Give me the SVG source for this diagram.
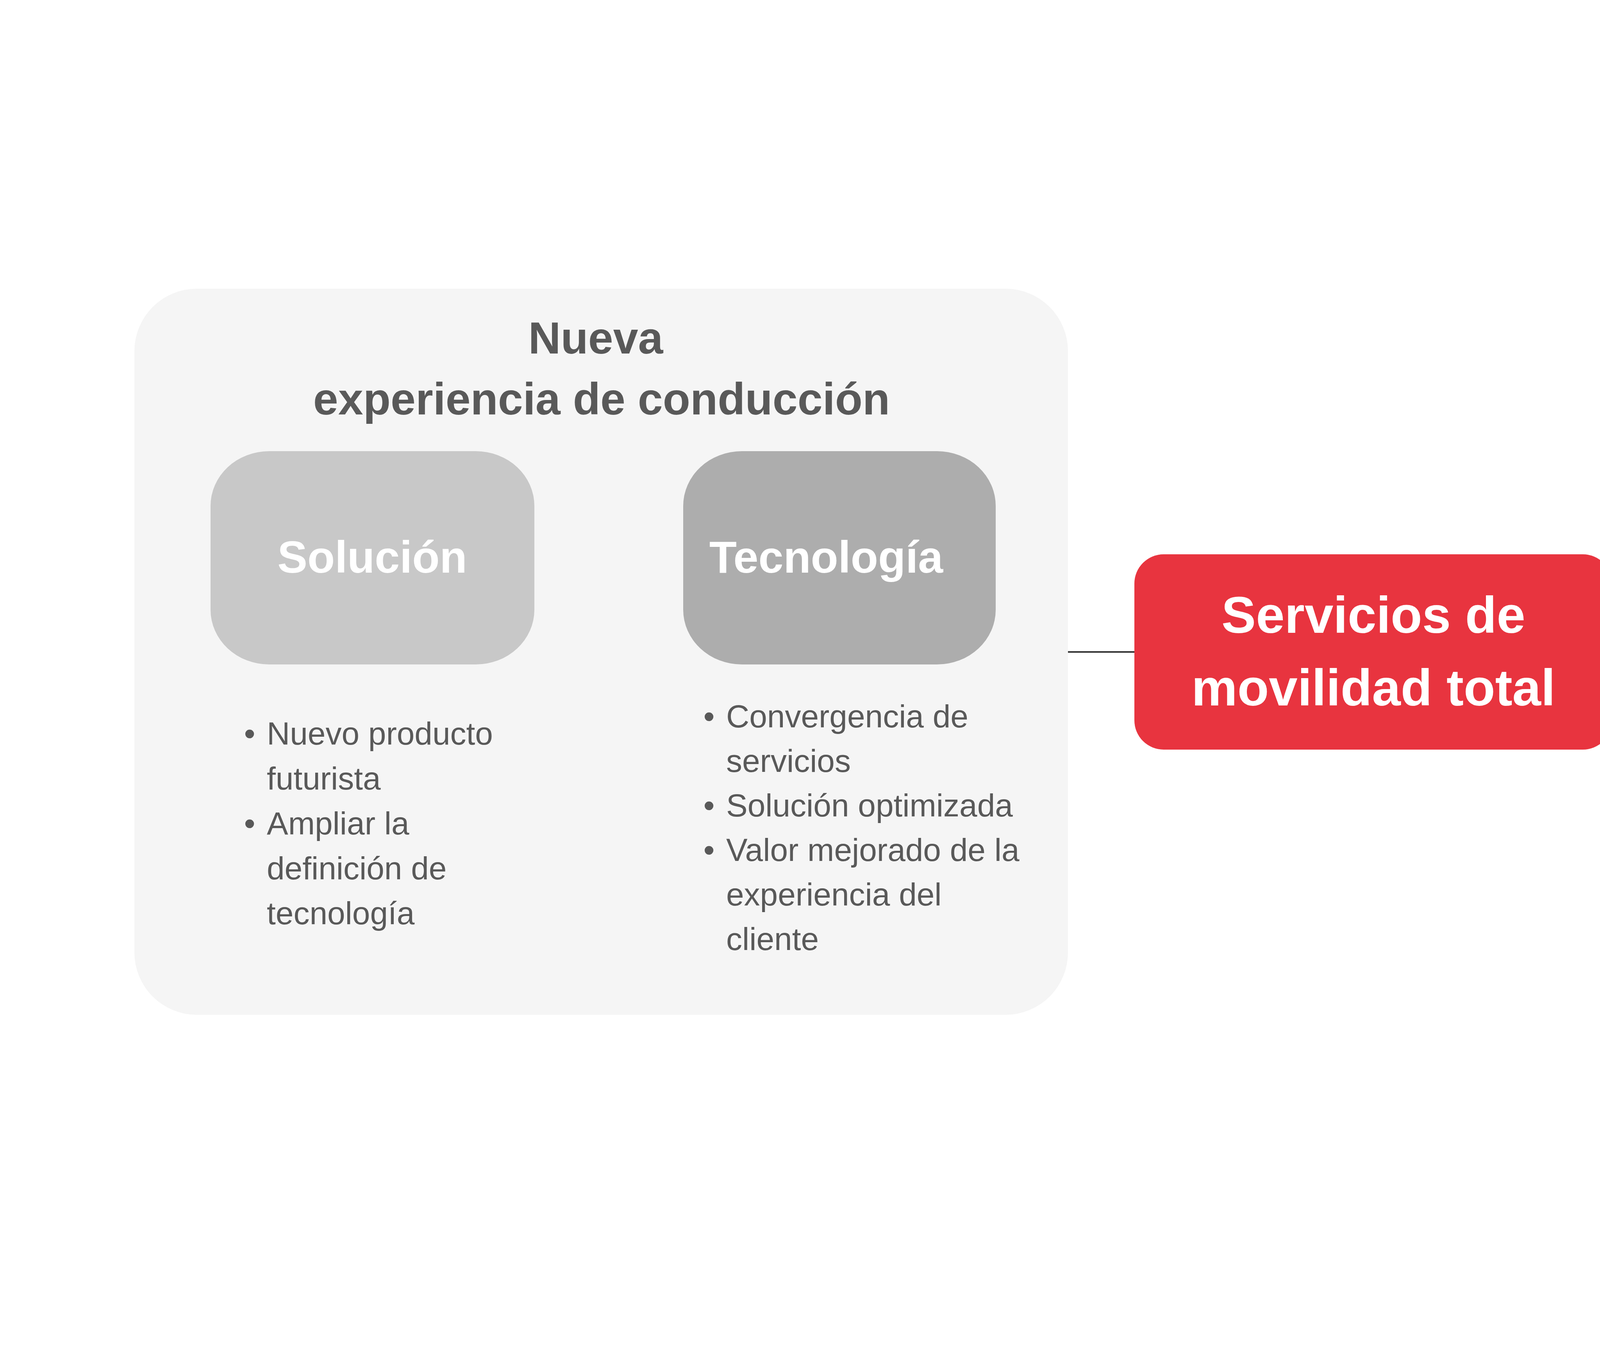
<svg xmlns="http://www.w3.org/2000/svg" width="6912" height="3456" viewBox="0 0 6912 3456">
<style>
.panel{fill:#f5f5f5}
.title{font-family:"Liberation Sans",Arial,sans-serif;font-weight:bold;font-size:115px;fill:#595959;text-anchor:middle}
.lbl{font-family:"Liberation Sans",Arial,sans-serif;font-weight:bold;fill:#ffffff;text-anchor:middle}
.item{font-family:"Liberation Sans",Arial,sans-serif;font-size:82px;fill:#595959}
.bul{font-family:"Liberation Sans",Arial,sans-serif;font-size:82px;fill:#595959;text-anchor:middle}
.conn{stroke:#333333;stroke-width:4;fill:none}
</style>
<rect width="6912" height="3456" fill="#ffffff"/>
<g id="connectors">
<line class="conn" x1="2733" y1="1669" x2="2904" y2="1669"/>
<line class="conn" x1="4127" y1="1669" x2="4297" y2="1669"/>
</g>
<g id="panel-left">
<rect class="panel" x="344" y="739" width="2390" height="1859" rx="160" ry="160"/>
<text class="title" x="1525" y="905">Nueva</text>
<text class="title" x="1540" y="1061">experiencia de conducción</text>
</g>
<g id="node-solucion">
<rect x="539" y="1155" width="829" height="546" rx="150" ry="140" fill="#c8c8c8"/>
<text class="lbl" x="953" y="1466" font-size="115">Solución</text>
<text class="bul" x="639" y="1906">•</text>
<text class="item" x="683" y="1906">Nuevo producto</text>
<text class="item" x="683" y="2021">futurista</text>
<text class="bul" x="639" y="2136">•</text>
<text class="item" x="683" y="2136">Ampliar la</text>
<text class="item" x="683" y="2251">definición de</text>
<text class="item" x="683" y="2366">tecnología</text>
</g>
<g id="node-tecnologia">
<rect x="1749" y="1155" width="800" height="546" rx="150" ry="140" fill="#adadad"/>
<text class="lbl" x="2115" y="1466" font-size="115">Tecnología</text>
<text class="bul" x="1815" y="1862">•</text>
<text class="item" x="1859" y="1862">Convergencia de</text>
<text class="item" x="1859" y="1976">servicios</text>
<text class="bul" x="1815" y="2090">•</text>
<text class="item" x="1859" y="2090">Solución optimizada</text>
<text class="bul" x="1815" y="2204">•</text>
<text class="item" x="1859" y="2204">Valor mejorado de la</text>
<text class="item" x="1859" y="2318">experiencia del</text>
<text class="item" x="1859" y="2432">cliente</text>
</g>
<g id="node-center">
<rect x="2904" y="1419" width="1223" height="500" rx="75" ry="75" fill="#e8343f"/>
<text class="lbl" x="3516" y="1620" font-size="132">Servicios de</text>
<text class="lbl" x="3516" y="1806" font-size="132">movilidad total</text>
</g>
<g id="panel-right">
<rect class="panel" x="4297" y="679" width="2348" height="1883" rx="160" ry="160"/>
<text class="title" x="5491" y="847">Estilo de vida del cliente</text>
</g>
<g id="node-conveniencia">
<rect x="4509" y="1094" width="830" height="549" rx="150" ry="140" fill="#f77c84"/>
<text class="lbl" x="4906" y="1409" font-size="108">Conveniencia</text>
<text class="bul" x="4612" y="1800">•</text>
<text class="item" x="4656" y="1800">Identificar las</text>
<text class="item" x="4656" y="1915">necesidades del</text>
<text class="item" x="4656" y="2031">cliente</text>
<text class="bul" x="4608" y="2143" font-size="78">•</text>
<text class="item" x="4652" y="2143" font-size="78">Comodidad del</text>
<text class="item" x="4652" y="2254" font-size="78">producto</text>
<text class="bul" x="4612" y="2366">•</text>
<text class="item" x="4656" y="2366">Comodidad del</text>
<text class="item" x="4656" y="2478">servicio</text>
</g>
<g id="node-seguridad">
<rect x="5703" y="1098" width="798" height="550" rx="150" ry="140" fill="#f5a3a9"/>
<text class="lbl" x="6120" y="1409" font-size="108">Seguridad</text>
<text class="bul" x="5784" y="1838">•</text>
<text class="item" x="5828" y="1838">Valor fundamental</text>
<text class="item" x="5828" y="1953">de KUMHO TIRE</text>
</g>
</svg>
